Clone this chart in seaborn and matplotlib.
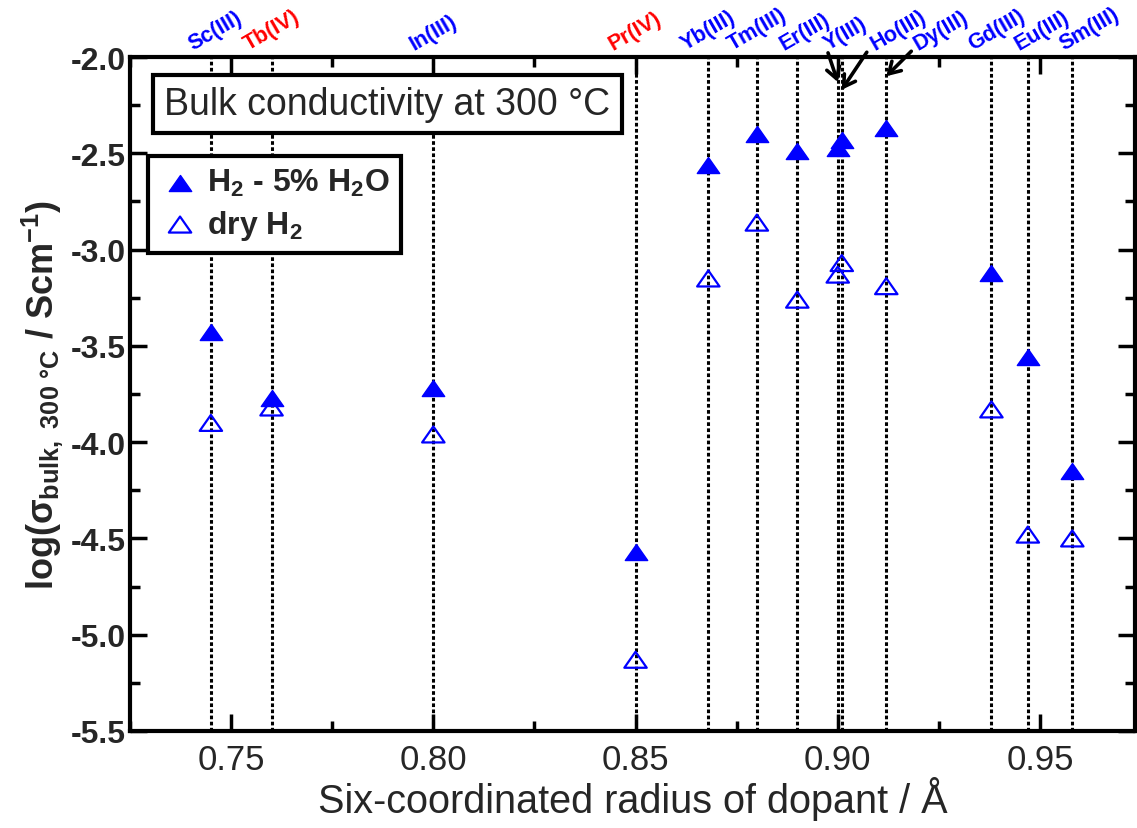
import matplotlib
matplotlib.use("Agg")
import matplotlib.pyplot as plt
from matplotlib.path import Path
from matplotlib.ticker import MultipleLocator, FormatStrFormatter
from matplotlib import font_manager
import pandas as pd
import seaborn as sns

# --- dados ---
dopantes = ["Sc(III)", "Tb(IV)", "In(III)", "Pr(IV)", "Yb(III)", "Tm(III)", "Er(III)",
            "Y(III)", "Ho(III)", "Dy(III)", "Gd(III)", "Eu(III)", "Sm(III)"]
raios = [0.745, 0.760, 0.800, 0.850, 0.868, 0.880, 0.890,
         0.900, 0.901, 0.912, 0.938, 0.947, 0.958]
log_sigma_umido = [-3.43, -3.77, -3.72, -4.57, -2.56, -2.40, -2.49,
                   -2.47, -2.43, -2.37, -3.12, -3.56, -4.15]
log_sigma_seco = [-3.90, -3.82, -3.96, -5.13, -3.15, -2.86, -3.26,
                  -3.13, -3.07, -3.19, -3.83, -4.48, -4.50]
valencia = ["III", "IV", "III", "IV", "III", "III", "III",
            "III", "III", "III", "III", "III", "III"]

df = pd.DataFrame({"raio": raios, "umido": log_sigma_umido, "seco": log_sigma_seco})

sns.set_theme(style="ticks")
nomes = {f.name for f in font_manager.fontManager.ttflist}
fonte = "Liberation Sans" if "Liberation Sans" in nomes else "DejaVu Sans"
fonte_estreita = "Liberation Sans Narrow" if "Liberation Sans Narrow" in nomes else fonte
plt.rcParams["font.family"] = [fonte, "DejaVu Sans"]
plt.rcParams["mathtext.fontset"] = "custom"
plt.rcParams["mathtext.rm"] = fonte + ":bold"
plt.rcParams["mathtext.it"] = fonte + ":bold"
plt.rcParams["mathtext.bf"] = fonte + ":bold"

# triângulo mais "achatado" que o '^' padrão
tri = Path([(-1, -0.715), (1, -0.715), (0, 0.715), (-1, -0.715)],
           [Path.MOVETO, Path.LINETO, Path.LINETO, Path.CLOSEPOLY])

fig = plt.figure(figsize=(11.37, 8.29), dpi=100)
ax = fig.add_axes([130 / 1137, 1 - 732 / 829, 1005 / 1137, 674 / 829])

# linhas verticais tracejadas em cada dopante
for r in raios:
    ax.axvline(r, color="black", lw=2.2, ls=(0, (1.2, 0.8)), zorder=1)

sns.scatterplot(data=df, x="raio", y="umido", ax=ax, marker=tri, s=260,
                color="#0000ff", edgecolor="#0000ff", linewidth=1, zorder=3,
                label=r"H$_2$ - 5% H$_2$O")
sns.scatterplot(data=df, x="raio", y="seco", ax=ax, marker=tri, s=260,
                facecolor="none", edgecolor="#0000ff", linewidth=1.6, zorder=3,
                label=r"dry H$_2$")

ax.set_xlim(0.725, 0.9735)
ax.set_ylim(-5.5, -2.0)
ax.xaxis.set_major_locator(MultipleLocator(0.05))
ax.xaxis.set_minor_locator(MultipleLocator(0.025))
ax.yaxis.set_major_locator(MultipleLocator(0.5))
ax.yaxis.set_minor_locator(MultipleLocator(0.25))
ax.xaxis.set_major_formatter(FormatStrFormatter("%.2f"))
ax.yaxis.set_major_formatter(FormatStrFormatter("%.1f"))
ax.tick_params(which="both", direction="in", top=True, right=True, width=2.5, color="black")
ax.tick_params(which="major", length=12)
ax.tick_params(which="minor", length=7)
ax.tick_params(axis="x", which="major", pad=9)
ax.tick_params(axis="y", which="major", pad=3)
for lb in ax.get_xticklabels():
    lb.set_fontfamily(fonte_estreita)
    lb.set_fontsize(25)
for lb in ax.get_yticklabels():
    lb.set_fontweight("bold")
    lb.set_fontsize(23)
for sp in ax.spines.values():
    sp.set_linewidth(3)
    sp.set_color("black")

ax.set_xlabel("Six-coordinated radius of dopant / Å", fontfamily=fonte_estreita,
              fontsize=28.5, labelpad=0)
ax.set_ylabel(r"log($\sigma_{\mathregular{bulk,\ 300\ °C}}$ / Scm$^{\mathregular{-1}}$)",
              fontsize=26, fontweight="bold", labelpad=4)

# rótulos dos dopantes no topo (deslocamentos em px)
desloc = [4, 0, 0, 0, 0, 0, 8, 8, 57, 55, 5, 14, 17]
for nome, r, val, dx in zip(dopantes, raios, valencia, desloc):
    cor = "red" if val == "IV" else "#0000ff"
    ax.annotate(nome, xy=(r, 1.0), xycoords=("data", "axes fraction"),
                xytext=(dx * 0.72, 2), textcoords="offset points",
                rotation=30, ha="center", va="bottom", color=cor,
                fontsize=15.5, fontweight="bold", annotation_clip=False)

# setas para Y, Ho e Dy
setas = {"Y(III)": (-2.13, -7, 21), "Ho(III)": (-2.17, 18, 27), "Dy(III)": (-2.10, 18, 18)}
for nome, (ytip, dx, dy) in setas.items():
    r = raios[dopantes.index(nome)]
    ax.annotate("", xy=(r, ytip), xytext=(dx, dy), textcoords="offset points",
                arrowprops=dict(arrowstyle="->,head_length=0.5,head_width=0.3",
                                color="black", lw=2.6, mutation_scale=16,
                                shrinkA=0, shrinkB=0))

ax.text(0.256, 0.930, "Bulk conductivity at 300 °C", transform=ax.transAxes,
        ha="center", va="center", fontsize=27,
        bbox=dict(boxstyle="square,pad=0.3", fc="white", ec="black", lw=3), zorder=5)

leg = ax.legend(loc="upper left", bbox_to_anchor=(0.018, 0.853), borderaxespad=0,
                prop={"weight": "bold", "size": 23}, frameon=True, fancybox=False,
                handletextpad=0.2, labelspacing=0.3, borderpad=0.35, handlelength=1.3)
leg.get_frame().set_edgecolor("black")
leg.get_frame().set_linewidth(3)
leg.get_frame().set_alpha(1)
leg.set_zorder(5)

fig.savefig("out.png", dpi=100)
